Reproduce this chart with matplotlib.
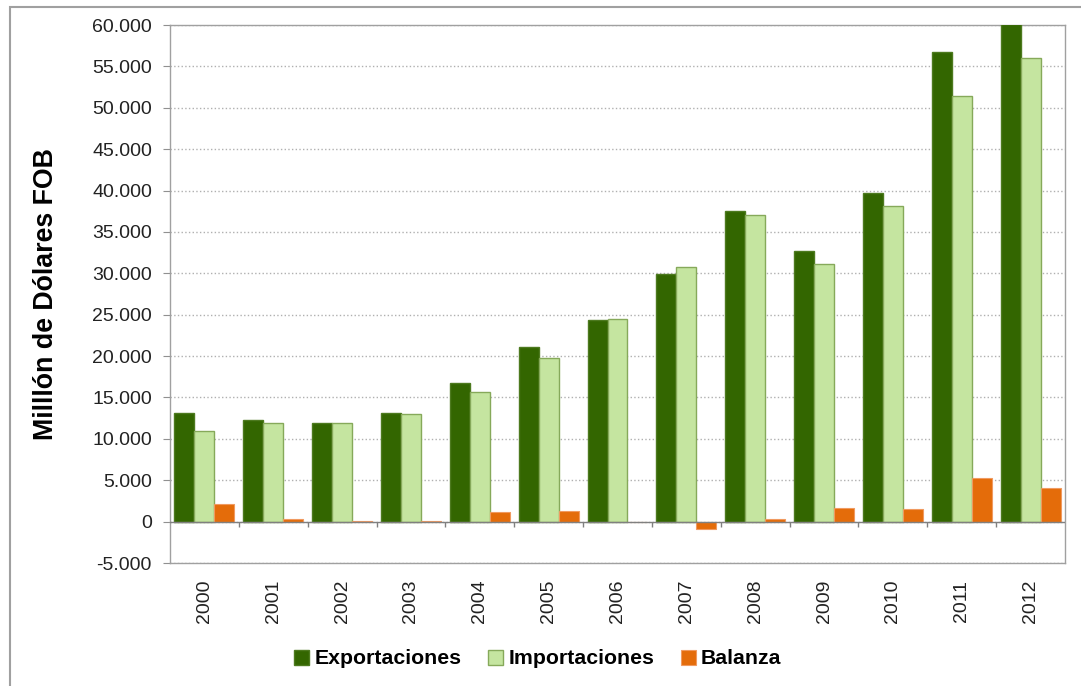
import numpy as np
import matplotlib
matplotlib.use("Agg")
import matplotlib.pyplot as plt
from matplotlib.patches import Rectangle
from matplotlib.ticker import FuncFormatter

plt.rcParams['font.family'] = ['Liberation Sans', 'DejaVu Sans']

# datos (millones de USD FOB)
years = ['2000', '2001', '2002', '2003', '2004', '2005', '2006',
         '2007', '2008', '2009', '2010', '2011', '2012']
exportaciones = [13120, 12230, 11910, 13070, 16740, 21120, 24300,
                 29930, 37540, 32750, 39670, 56770, 60100]
importaciones = [10990, 11950, 11890, 13050, 15650, 19800, 24500,
                 30810, 37090, 31100, 38140, 51460, 56040]
balanza = [2140, 330, 30, 20, 1120, 1330, -80,
           -850, 360, 1650, 1480, 5310, 4100]

fig = plt.figure(figsize=(10.81, 6.86), dpi=100)
ax = fig.add_axes([170/1081, 1 - 563/686, (1065-170)/1081, (563-25)/686])

x = np.arange(len(years))
w = 0.29
ax.bar(x - w, exportaciones, w, color='#336600', edgecolor='#4d7a1f', linewidth=1, label='Exportaciones', zorder=3)
ax.bar(x, importaciones, w, color='#c5e5a0', edgecolor='#86a95a', linewidth=1, label='Importaciones', zorder=3)
ax.bar(x + w, balanza, w, color='#e46c0a', edgecolor='#f09a60', linewidth=0.8, label='Balanza', zorder=3)

ax.set_xlim(-0.5, len(years) - 0.5)
ax.set_ylim(-5000, 60000)
ax.set_yticks(np.arange(-5000, 60001, 5000))
ax.yaxis.set_major_formatter(FuncFormatter(lambda v, p: f"{int(v):,}".replace(',', '.')))
ax.set_xticks(x)
ax.set_xticklabels(years, rotation=90)
ax.tick_params(axis='x', length=0, pad=12, labelsize=14, labelcolor='#222222')
ax.tick_params(axis='y', length=5, color='#909090', pad=8, labelsize=14, labelcolor='#222222')

ax.grid(axis='y', linestyle=':', color='#b0b0b0', linewidth=1, zorder=0)
ax.axhline(0, color='#808080', linewidth=1, zorder=4)
# marcas del eje de categorias sobre la linea de cero
ax.vlines(x[:-1] + 0.5, -600, 0, color='#808080', linewidth=1, zorder=4)

for s in ax.spines.values():
    s.set_color('#a0a0a0')
    s.set_linewidth(1)

ax.set_ylabel('Milllón de Dólares FOB', fontsize=19.3, fontweight='bold', labelpad=24)

fig.legend(loc='center', bbox_to_anchor=(538/1081, 1 - 659/686), ncol=3, frameon=False,
           prop={'weight': 'bold', 'size': 15.3}, handlelength=0.7, handleheight=0.7,
           handletextpad=0.25, columnspacing=1.25)

fig.add_artist(Rectangle((10/1081, -0.1), 1.2, 0.1 + 1 - 7/686, transform=fig.transFigure,
                         fill=False, edgecolor='#a0a0a0', linewidth=1.5))

fig.savefig('out.png', dpi=100)
